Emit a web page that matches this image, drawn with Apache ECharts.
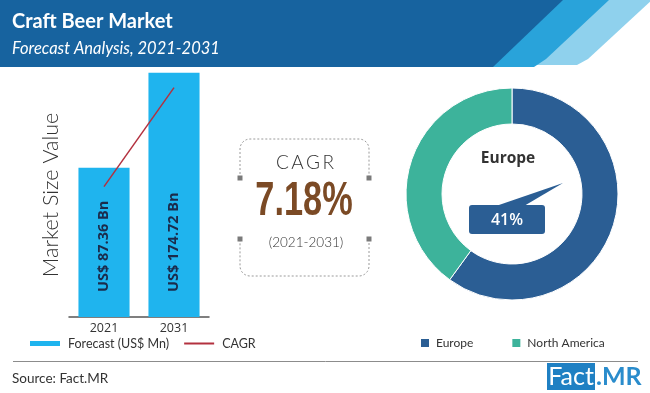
<!DOCTYPE html>
<html>
<head>
<meta charset="utf-8">
<script src="https://cdn.jsdelivr.net/npm/echarts@6/dist/echarts.min.js"></script>
<style>
html,body{margin:0;padding:0;background:#fff;}
#chart{width:650px;height:393px;}
</style>
</head>
<body>
<div id="chart"></div>
<script>
// ---- data ----
const years = ['2021', '2031'];
const marketValues = [87.36, 174.72];   // US$ Bn
const cagrLine = [70, 161];             // CAGR trend line
const regions = ['Europe', 'North America'];
const regionShares = [60, 40];          // slice sizes
const cagrText = '7.18%';
const cagrPeriod = '(2021-2031)';
const calloutText = '41%';

const barColor = '#1fb4ee';
const lineColor = '#b3313f';
const regionColors = ['#2b5e94', '#3db39b'];

// rounded dashed box helper (layout only)
function corner(cx, cy, r, a0, a1) {
  const pts = [];
  for (let k = 0; k <= 8; k++) {
    const a = a0 + (a1 - a0) * k / 8;
    pts.push([cx + r * Math.cos(a), cy + r * Math.sin(a)]);
  }
  return pts;
}
const L = 240, R = 369, T = 139, B = 276, rr = 10;
const boxTop = [[L, 178]].concat(corner(L + rr, T + rr, rr, Math.PI, 1.5 * Math.PI), corner(R - rr, T + rr, rr, 1.5 * Math.PI, 2 * Math.PI), [[R, 178]]);
const boxBottom = [[R, 239]].concat(corner(R - rr, B - rr, rr, 0, 0.5 * Math.PI), corner(L + rr, B - rr, rr, 0.5 * Math.PI, Math.PI), [[L, 239]]);

const chart = echarts.init(document.getElementById('chart'));

const option = {
  animation: false,
  backgroundColor: '#ffffff',
  grid: { left: 69, width: 140, top: 67, bottom: 76 },
  xAxis: {
    type: 'category',
    data: years,
    axisLine: { onZero: false, lineStyle: { color: '#555', width: 1.5 } },
    axisTick: { show: false },
    axisLabel: { color: '#333', fontSize: 12.5, fontFamily: 'Open Sans', margin: 5 }
  },
  yAxis: {
    type: 'value',
    min: -50,
    max: 180,
    axisLine: { show: false },
    axisTick: { show: false },
    axisLabel: { show: false },
    splitLine: { show: false }
  },
  legend: [
    {
      left: 30, top: 337, padding: 0, itemGap: 14,
      itemWidth: 30, itemHeight: 5,
      textStyle: { color: '#333', fontSize: 12.5, fontFamily: 'Lato', padding: [0, 0, 0, 3] },
      data: [
        { name: 'Forecast (US$ Mn)', icon: 'rect' },
        { name: 'CAGR', itemStyle: { opacity: 0 } }
      ],
      selectedMode: false
    },
    {
      left: 419, top: 337, padding: 0, itemGap: 37,
      itemWidth: 10, itemHeight: 10, icon: 'rect',
      textStyle: { color: '#333', fontSize: 12, fontFamily: 'Lato', padding: [0, 0, 0, 1] },
      data: regions,
      selectedMode: false
    }
  ],
  series: [
    {
      name: 'Forecast (US$ Mn)',
      type: 'custom',
      itemStyle: { color: barColor },
      data: years.map((y, i) => [i, marketValues[i]]),
      renderItem: function (params, api) {
        const xi = api.value(0);
        const v = api.value(1);
        const top = api.coord([xi, v]);
        const base = api.coord([xi, -50]);
        const w = api.size([1, 0])[0] * 0.73;
        return {
          type: 'group',
          children: [
            {
              type: 'rect',
              shape: { x: top[0] - w / 2, y: top[1], width: w, height: base[1] - top[1] },
              style: { fill: barColor }
            },
            {
              type: 'text',
              x: top[0],
              y: base[1] - 25,
              rotation: Math.PI / 2,
              style: {
                text: 'US$ ' + v + ' Bn',
                fill: '#1b2b4b',
                font: 'bold 14.5px "Open Sans"',
                align: 'left',
                verticalAlign: 'middle'
              }
            }
          ]
        };
      }
    },
    {
      name: 'CAGR',
      type: 'line',
      data: cagrLine,
      symbol: 'none',
      color: lineColor,
      lineStyle: { color: lineColor, width: 1.5 },
      z: 5
    },
    {
      name: 'Region',
      type: 'pie',
      center: [512, 194],
      radius: [70, 106],
      startAngle: 90,
      clockwise: true,
      label: { show: false },
      labelLine: { show: false },
      emphasis: { disabled: true },
      itemStyle: { borderColor: '#fff', borderWidth: 1 },
      data: regions.map((r, i) => ({ name: r, value: regionShares[i], itemStyle: { color: regionColors[i] } }))
    }
  ],
  graphic: [
    // header bands
    { type: 'polygon', shape: { points: [[606, 0], [652, 0], [588, 59], [577, 65], [530, 65]] }, style: { fill: '#8fd1ed' }, silent: true },
    { type: 'polygon', shape: { points: [[561, 0], [609, 0], [546, 59], [534, 67], [490, 67]] }, style: { fill: '#29a3da' }, silent: true },
    { type: 'polygon', shape: { points: [[0, 0], [563, 0], [493, 67], [0, 67]] }, style: { fill: '#17639f' }, silent: true },
    { type: 'text', x: 12, y: 22, style: { text: 'Craft Beer Market', fill: '#fff', font: 'bold 20px Lato', verticalAlign: 'middle' }, silent: true },
    { type: 'text', x: 12, y: 49, style: { text: 'Forecast Analysis, 2021-2031', fill: '#fff', font: 'italic 16.5px Lato', verticalAlign: 'middle' }, silent: true },
    // y axis title
    { type: 'text', x: 51.5, y: 195, rotation: Math.PI / 2, style: { text: 'Market Size Value', fill: '#333', font: '300 21.5px Lato', align: 'center', verticalAlign: 'middle' }, silent: true },
    // CAGR box
    { type: 'polyline', shape: { points: boxTop }, style: { fill: null, stroke: '#9a9a9a', lineWidth: 1, lineDash: [2, 2] }, silent: true },
    { type: 'polyline', shape: { points: boxBottom }, style: { fill: null, stroke: '#9a9a9a', lineWidth: 1, lineDash: [2, 2] }, silent: true },
    { type: 'rect', shape: { x: 237.5, y: 175.5, width: 5, height: 5 }, style: { fill: '#7a7a7a' }, silent: true },
    { type: 'rect', shape: { x: 237.5, y: 236.5, width: 5, height: 5 }, style: { fill: '#7a7a7a' }, silent: true },
    { type: 'rect', shape: { x: 366.5, y: 175.5, width: 5, height: 5 }, style: { fill: '#7a7a7a' }, silent: true },
    { type: 'rect', shape: { x: 366.5, y: 236.5, width: 5, height: 5 }, style: { fill: '#7a7a7a' }, silent: true },
    { type: 'text', x: 305, y: 163, style: { text: 'C\u2009A\u2009G\u2009R', fill: '#333', font: '300 19px Lato', align: 'center', verticalAlign: 'middle' }, silent: true },
    { type: 'text', x: 304, y: 201, scaleX: 0.7, style: { text: cagrText, fill: '#7b4a25', font: 'bold 49px "Liberation Sans", Arial, sans-serif', align: 'center', verticalAlign: 'middle' }, silent: true },
    { type: 'text', x: 306, y: 243, style: { text: cagrPeriod, fill: '#333', font: '300 13.5px Lato', align: 'center', verticalAlign: 'middle' }, silent: true },
    // donut centre label + callout
    { type: 'text', x: 508, y: 159, style: { text: 'Europe', fill: '#333', font: 'bold 15.5px "Open Sans"', align: 'center', verticalAlign: 'middle' }, silent: true },
    { type: 'polygon', shape: { points: [[496, 206], [524, 206], [563, 183]] }, style: { fill: '#2b5e94' }, silent: true },
    { type: 'rect', shape: { x: 469, y: 205, width: 76, height: 29, r: 3 }, style: { fill: '#2b5e94' }, silent: true },
    { type: 'text', x: 507, y: 220, style: { text: calloutText, fill: '#fff', font: '600 16px "Open Sans"', align: 'center', verticalAlign: 'middle' }, silent: true },
    // footer
    { type: 'line', shape: { x1: 13, y1: 361.5, x2: 638, y2: 361.5 }, style: { stroke: '#8c8c8c', lineWidth: 1 }, silent: true },
    { type: 'text', x: 12, y: 379, style: { text: 'Source: Fact.MR', fill: '#333', font: '13.5px Lato', verticalAlign: 'middle' }, silent: true },
    { type: 'rect', shape: { x: 547, y: 363, width: 48, height: 27 }, style: { fill: '#1f80c3' }, silent: true },
    { type: 'text', x: 571, y: 377, style: { text: 'Fact', fill: '#fff', font: '25px Lato', align: 'center', verticalAlign: 'middle' }, silent: true },
    { type: 'text', x: 596, y: 377, style: { text: '.MR', fill: '#2a8ccc', font: 'bold 25px Lato', align: 'left', verticalAlign: 'middle' }, silent: true }
  ]
};

chart.setOption(option);
</script>
</body>
</html>
